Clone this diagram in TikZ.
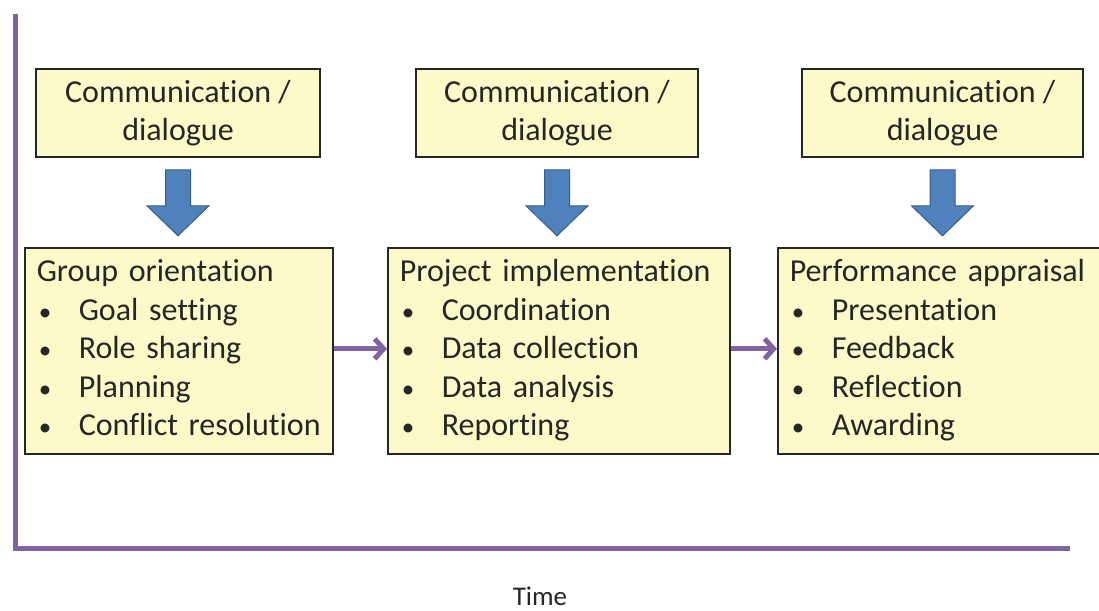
\documentclass[tikz,border=0pt]{standalone}
\usepackage{fontspec}
\setmainfont{Carlito}[Ligatures=NoCommon]
\usetikzlibrary{arrows.meta,calc}

\definecolor{notefill}{RGB}{252,250,200}
\definecolor{timeline}{RGB}{128,100,162}
\definecolor{pushblue}{RGB}{79,129,189}
\definecolor{pushedge}{RGB}{56,93,138}
\definecolor{ink}{RGB}{38,38,38}

\newcommand{\itm}[1]{\makebox[42pt][l]{\hspace{2pt}{\fontsize{25}{25}\selectfont\textbullet}}#1}

\begin{document}
\begin{tikzpicture}[x=1pt,y=-1pt,text=ink,font=\fontsize{32}{38.5}\selectfont,
	note/.style={draw=black!85,line width=1.6pt,fill=notefill,inner sep=0pt},
	phase/.style={note,anchor=north west,align=left,inner xsep=12pt,minimum height=206pt},
	push/.style={draw=pushedge,line width=1pt,fill=pushblue},
	flow/.style={draw=timeline,line width=5pt,-{Straight Barb[length=9pt,width=20pt]}}]
	\useasboundingbox (0,0) rectangle (1099,610);

	% time axis
	\coordinate (top) at (15,14);
	\coordinate (O) at (15,548);
	\coordinate (end) at (1070,548);
	\draw[timeline,line width=5pt] (top) -- (O) -- (end);
	\node[font=\fontsize{27}{30}\selectfont,anchor=base] (time) at (540,605) {Time};

	% dialogue boxes
	\node[note,minimum width=284pt,minimum height=88pt,align=center] (c1) at (178,113) {Communication /\\dialogue};
	\node[note,minimum width=282pt,minimum height=88pt,align=center] (c2) at (557,113) {Communication /\\dialogue};
	\node[note,minimum width=281pt,minimum height=88pt,align=center] (c3) at (942.5,113) {Communication /\\dialogue};

	% phases
	\node[phase,text width=284pt] (b1) at (24,247) {\strut Group orientation\\ \itm{Goal setting}\\ \itm{Role sharing}\\ \itm{Planning}\\ \itm{Conflict resolution}\strut};
	\node[phase,text width=318pt] (b2) at (387,247) {\strut Project implementation\\ \itm{Coordination}\\ \itm{Data collection}\\ \itm{Data analysis}\\ \itm{Reporting}\strut};
	\node[phase,text width=301pt] (b3) at (777,247) {\strut Performance appraisal\\ \itm{Presentation}\\ \itm{Feedback}\\ \itm{Reflection}\\ \itm{Awarding}\strut};

	\foreach \n in {1,2,3}
		\draw[push] ($(c\n.south)+(-12.5,12)$) -- ++(25,0) -- ++(0,36) -- ++(18.5,0)
			-- ($(c\n.south)+(0,78)$) -- ($(c\n.south)+(-31,48)$) -- ++(18.5,0) -- cycle;

	\draw[flow] ([yshift=2pt]b1.east) to ([yshift=2pt]b2.west);
	\draw[flow] ([yshift=2pt]b2.east) to ([yshift=2pt]b3.west);
\end{tikzpicture}
\end{document}
